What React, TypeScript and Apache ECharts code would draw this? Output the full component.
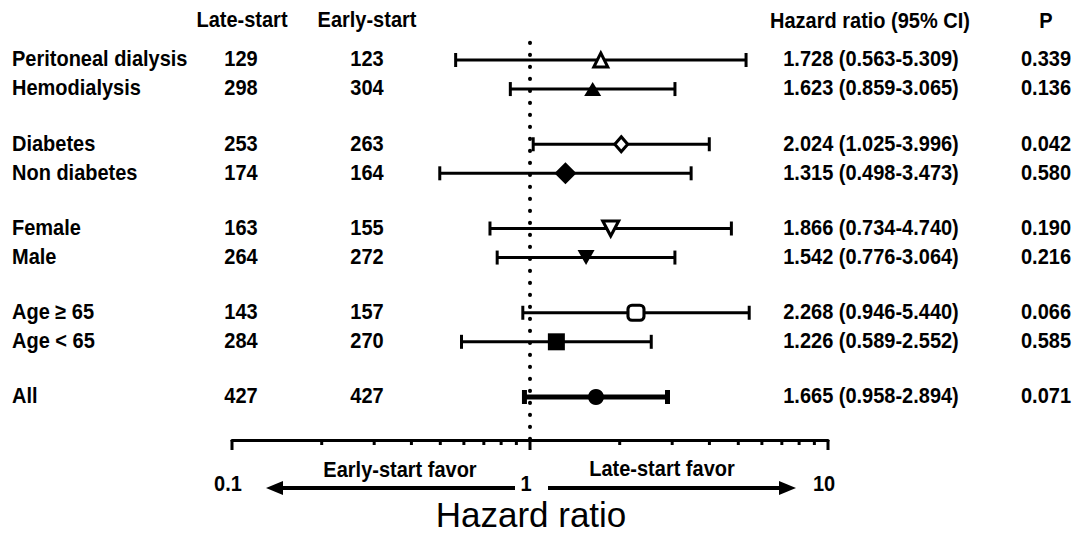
import React, { useEffect, useRef } from "react";
import * as echarts from "echarts";

const rowLabels = [
  "Peritoneal dialysis",
  "Hemodialysis",
  "Diabetes",
  "Non diabetes",
  "Female",
  "Male",
  "Age ≥ 65",
  "Age < 65",
  "All",
];
const rowGroup = [0, 0, 1, 1, 2, 2, 3, 3, 4];
const rowInGroup = [0, 1, 0, 1, 0, 1, 0, 1, 0];
const lateStartN = [129, 298, 253, 174, 163, 264, 143, 284, 427];
const earlyStartN = [123, 304, 263, 164, 155, 272, 157, 270, 427];
const hazardRatio = [1.728, 1.623, 2.024, 1.315, 1.866, 1.542, 2.268, 1.226, 1.665];
const ciLower = [0.563, 0.859, 1.025, 0.498, 0.734, 0.776, 0.946, 0.589, 0.958];
const ciUpper = [5.309, 3.065, 3.996, 3.473, 4.74, 3.064, 5.44, 2.552, 2.894];
const pValues = ["0.339", "0.136", "0.042", "0.580", "0.190", "0.216", "0.066", "0.585", "0.071"];

const majorTicks = [0.1, 1, 10];
const minorTicks = [0.2, 0.3, 0.4, 0.5, 0.6, 0.7, 0.8, 0.9, 2, 3, 4, 5, 6, 7, 8, 9];
const tickLabelValues = [0.1, 1, 10];
const tickLabels = ["0.1", "1", "10"];

const FONT = "'Liberation Sans', Arial, sans-serif";
const GROUP_STEP = 2.9;
const Y_MIN = -1.033;
const Y_MAX = 13.08;
const TEXT_SCALE_Y = 1.08;

// marker styles (presentation only)
const markerStyles = [
  { symbol: "triangle", size: [14, 14], rotate: 0, open: true },
  { symbol: "triangle", size: [17, 14], rotate: 0, open: false },
  { symbol: "diamond", size: [13, 15], rotate: 0, open: true },
  { symbol: "diamond", size: [22, 22], rotate: 0, open: false },
  { symbol: "triangle", size: [16, 15], rotate: 180, open: true },
  { symbol: "triangle", size: [17, 15], rotate: 180, open: false },
  { symbol: "roundRect", size: [16, 15], rotate: 0, open: true },
  { symbol: "rect", size: [17, 17], rotate: 0, open: false },
  { symbol: "circle", size: [16, 16], rotate: 0, open: false },
];

export default function App() {
  const ref = useRef<HTMLDivElement>(null);

  useEffect(() => {
    if (!ref.current) return;
    const chart = echarts.init(ref.current, null, { renderer: "svg" });
    const rowPos = rowGroup.map((g, i) => g * GROUP_STEP + rowInGroup[i]);
    const hrText = hazardRatio.map(
      (h, i) => `${h.toFixed(3)} (${ciLower[i].toFixed(3)}-${ciUpper[i].toFixed(3)})`
    );

    const textStyle = (text: string, align: string, size = 20, weight: any = "bold") => ({
      text,
      fill: "#000",
      fontSize: size,
      fontWeight: weight,
      fontFamily: FONT,
      align,
      verticalAlign: "middle",
    });
    const txt = (x: number, y: number, text: string, align: string, size = 20, weight: any = "bold", sy = TEXT_SCALE_Y) => ({
      type: "text",
      x,
      y,
      scaleY: sy,
      style: textStyle(text, align, size, weight),
    });

    const option: any = {
      animation: false,
      backgroundColor: "#fff",
      grid: { left: 232, right: 250, top: 30, bottom: 96, containLabel: false },
      xAxis: {
        type: "log",
        logBase: 10,
        min: 0.1,
        max: 10,
        axisLine: { show: true, onZero: false, lineStyle: { color: "#000", width: 3 } },
        axisTick: { show: false },
        axisLabel: { show: false },
        splitLine: { show: false },
        minorSplitLine: { show: false },
      },
      yAxis: {
        type: "value",
        min: Y_MIN,
        max: Y_MAX,
        inverse: true,
        show: false,
        splitLine: { show: false },
      },
      graphic: [
        txt(242, 19, "Late-start", "center"),
        txt(367, 19, "Early-start", "center"),
        txt(870, 20, "Hazard ratio (95% CI)", "center"),
        txt(1046, 20, "P", "center"),
        txt(400, 469, "Early-start favor", "center"),
        txt(662, 468, "Late-start favor", "center"),
        txt(531, 514, "Hazard ratio", "center", 35, "normal", 1),
        {
          type: "line",
          shape: { x1: 515, y1: 488, x2: 280, y2: 488 },
          style: { stroke: "#000", lineWidth: 4 },
        },
        {
          type: "polygon",
          shape: { points: [[266, 488], [283, 481], [283, 495]] },
          style: { fill: "#000" },
        },
        {
          type: "line",
          shape: { x1: 548, y1: 488, x2: 782, y2: 488 },
          style: { stroke: "#000", lineWidth: 4 },
        },
        {
          type: "polygon",
          shape: { points: [[796, 488], [779, 481], [779, 495]] },
          style: { fill: "#000" },
        },
      ],
      series: [
        // reference dotted line at HR = 1
        {
          type: "custom",
          z: 1,
          data: [[1, 0]],
          encode: { x: 0, y: 1 },
          renderItem: (params: any, api: any) => {
            const top = api.coord([api.value(0), -0.59]);
            const bot = api.coord([api.value(0), Y_MAX]);
            return {
              type: "line",
              shape: { x1: top[0], y1: top[1], x2: bot[0], y2: bot[1] },
              style: { stroke: "#000", lineWidth: 4, lineCap: "round", lineDash: [0.1, 11.9] },
            };
          },
        },
        // axis ticks
        {
          type: "custom",
          z: 3,
          data: [
            ...majorTicks.map((v) => [v, 1]),
            ...minorTicks.map((v) => [v, 0]),
          ],
          encode: { x: 0, y: 1 },
          renderItem: (params: any, api: any) => {
            const p = api.coord([api.value(0), Y_MAX]);
            const major = api.value(1) === 1;
            return {
              type: "line",
              shape: { x1: p[0], y1: p[1], x2: p[0], y2: p[1] + (major ? 10 : 5) },
              style: { stroke: "#000", lineWidth: 3 },
            };
          },
        },
        // tick labels
        {
          type: "custom",
          z: 3,
          data: tickLabelValues.map((v, i) => [v, i]),
          encode: { x: 0, y: 1 },
          renderItem: (params: any, api: any) => {
            const p = api.coord([api.value(0), Y_MAX]);
            return txt(p[0] - 4, p[1] + 43, tickLabels[params.dataIndex], "center");
          },
        },
        // error bars
        {
          type: "custom",
          z: 4,
          data: rowPos.map((p, i) => [ciLower[i], ciUpper[i], p]),
          encode: { x: [0, 1], y: 2 },
          renderItem: (params: any, api: any) => {
            const i = params.dataIndex;
            const a = api.coord([api.value(0), api.value(2)]);
            const b = api.coord([api.value(1), api.value(2)]);
            const thick = i === rowLabels.length - 1;
            const lw = thick ? 5 : 3;
            const cw = thick ? 5 : 3;
            const ch = 7;
            return {
              type: "group",
              children: [
                {
                  type: "line",
                  shape: { x1: a[0], y1: a[1], x2: b[0], y2: b[1] },
                  style: { stroke: "#000", lineWidth: lw },
                },
                {
                  type: "line",
                  shape: { x1: a[0], y1: a[1] - ch, x2: a[0], y2: a[1] + ch },
                  style: { stroke: "#000", lineWidth: cw },
                },
                {
                  type: "line",
                  shape: { x1: b[0], y1: b[1] - ch, x2: b[0], y2: b[1] + ch },
                  style: { stroke: "#000", lineWidth: cw },
                },
              ],
            };
          },
        },
        // point estimates
        {
          type: "scatter",
          z: 5,
          itemStyle: { opacity: 1 },
          data: rowPos.map((p, i) => {
            const m = markerStyles[i];
            return {
              value: [hazardRatio[i], p],
              symbol: m.symbol,
              symbolSize: m.size,
              symbolRotate: m.rotate,
              itemStyle: m.open
                ? { color: "#fff", borderColor: "#000", borderWidth: 3, opacity: 1 }
                : { color: "#000", borderColor: "#000", borderWidth: 0, opacity: 1 },
            };
          }),
        },
        // table texts
        {
          type: "custom",
          z: 6,
          data: rowPos.map((p) => [1, p]),
          encode: { x: 0, y: 1 },
          renderItem: (params: any, api: any) => {
            const i = params.dataIndex;
            const y = api.coord([1, api.value(1)])[1] - 1.5;
            return {
              type: "group",
              children: [
                txt(12, y, rowLabels[i], "left"),
                txt(241, y, String(lateStartN[i]), "center"),
                txt(367, y, String(earlyStartN[i]), "center"),
                txt(871, y, hrText[i], "center"),
                txt(1046, y, pValues[i], "center"),
              ],
            };
          },
        },
      ],
    };

    chart.setOption(option);
    return () => chart.dispose();
  }, []);

  return (
    <div
      ref={ref}
      style={{ position: "fixed", left: 0, top: 0, width: 1078, height: 536, background: "#fff" }}
    />
  );
}
